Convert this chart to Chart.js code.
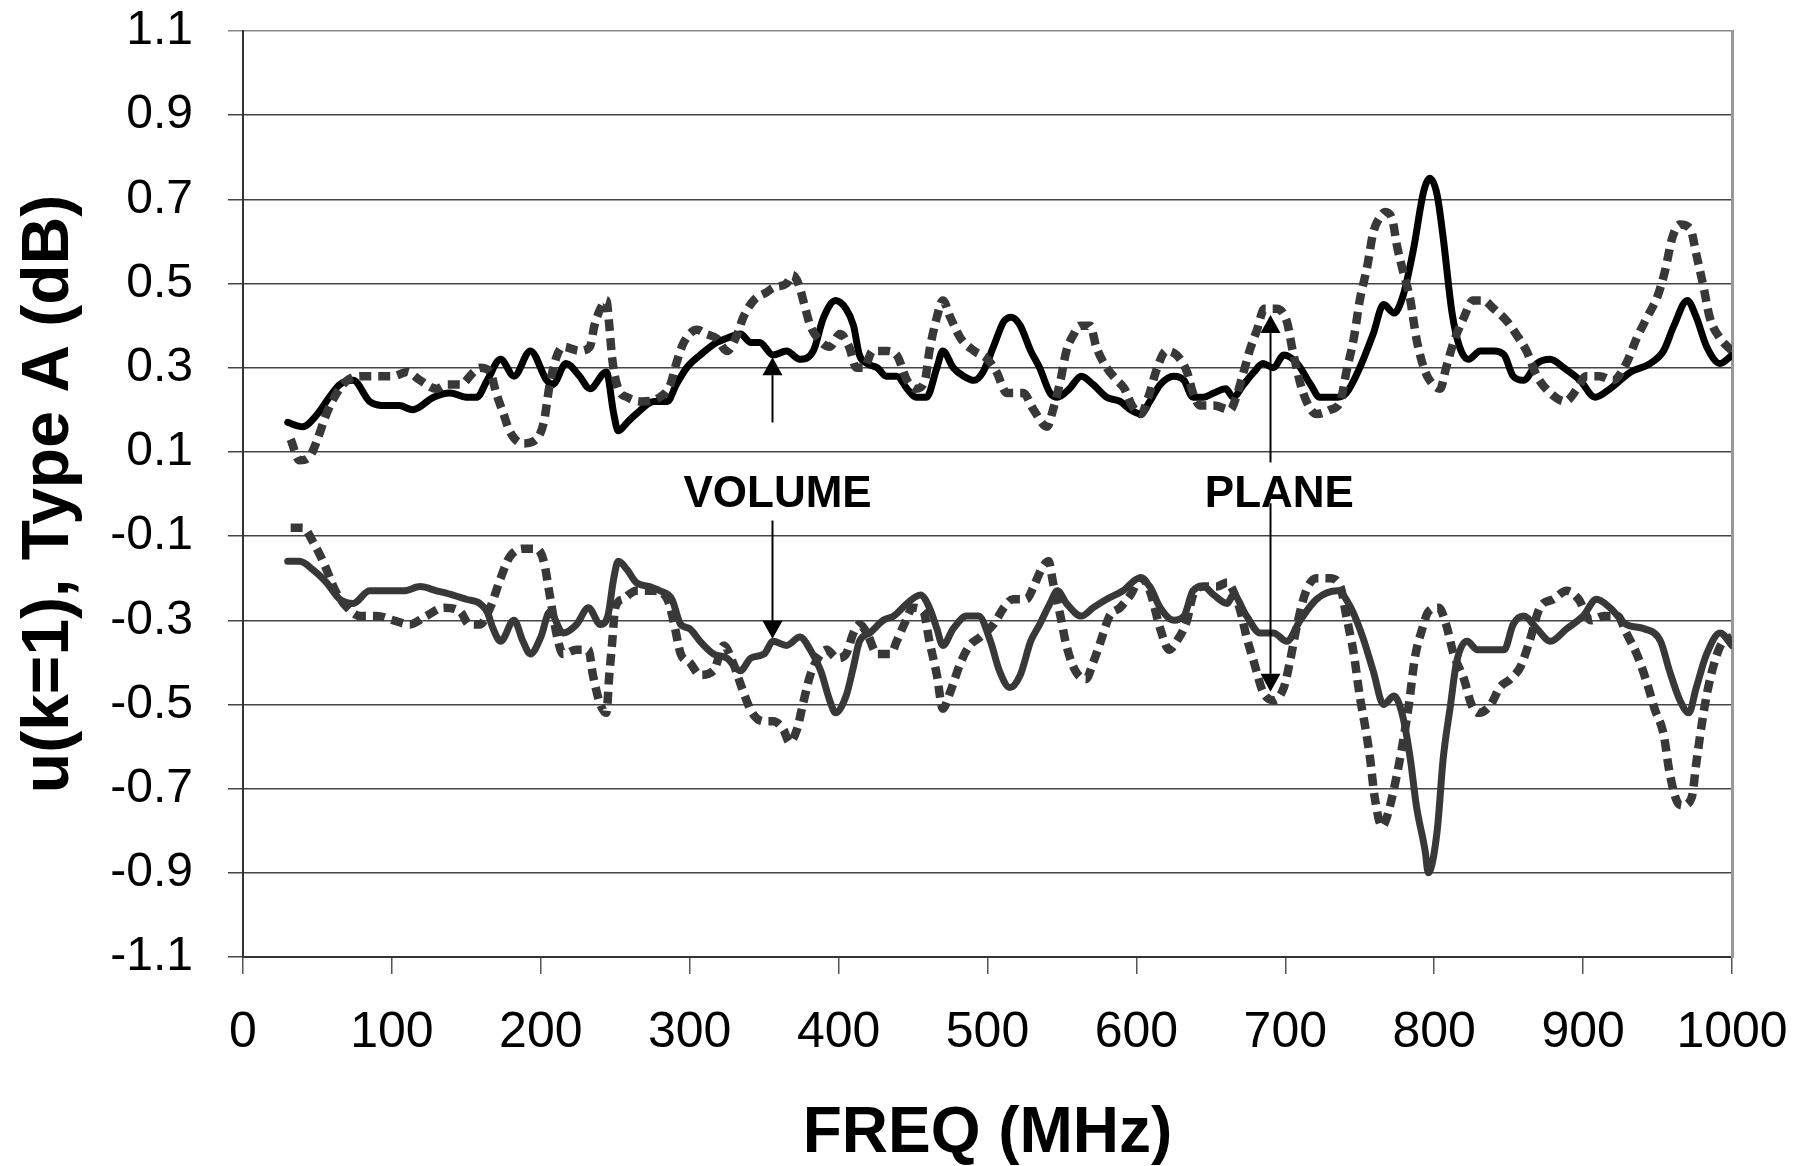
<!DOCTYPE html>
<html>
<head>
<meta charset="utf-8">
<script src="https://cdn.jsdelivr.net/npm/chart.js@4.4.1/dist/chart.umd.min.js"></script>
<style>
  html, body { margin: 0; padding: 0; background: #fff; }
  #wrap { width: 1796px; height: 1166px; }
</style>
</head>
<body>
<div id="wrap"><canvas id="uncChart" width="1796" height="1166"></canvas></div>
<script>
// upper curves (positive)
const upperSolidFreq = [30, 40, 50, 58, 65, 74, 85, 96, 105, 114, 128, 139, 150, 157, 164, 173, 182, 193, 204, 208, 217, 226, 233, 244, 249, 252, 258, 264, 276, 285, 291, 298, 307, 318, 325, 334, 341, 347, 356, 365, 374, 383, 390, 398, 405, 410, 414, 419, 426, 432, 439, 446, 452, 459, 466, 470, 477, 484, 491, 497, 504, 511, 516, 522, 529, 535, 542, 547, 555, 563, 571, 580, 589, 596, 603, 609, 616, 625, 632, 638, 645, 652, 660, 665, 672, 679, 685, 692, 699, 708, 717, 723, 735, 741, 750, 759, 766, 773, 779, 786, 793, 797, 802, 806, 812, 817, 823, 831, 840, 847, 853, 860, 869, 878, 887, 898, 908, 918, 932, 945, 954, 961, 970, 976, 983, 992, 1000];
const upperSolidVal = [0.17, 0.16, 0.19, 0.23, 0.26, 0.27, 0.22, 0.21, 0.21, 0.20, 0.23, 0.24, 0.23, 0.23, 0.27, 0.32, 0.28, 0.34, 0.27, 0.26, 0.31, 0.28, 0.25, 0.29, 0.19, 0.15, 0.17, 0.19, 0.22, 0.22, 0.26, 0.30, 0.33, 0.36, 0.37, 0.38, 0.36, 0.36, 0.33, 0.34, 0.32, 0.34, 0.42, 0.46, 0.44, 0.40, 0.33, 0.31, 0.30, 0.28, 0.28, 0.25, 0.23, 0.23, 0.30, 0.34, 0.30, 0.28, 0.27, 0.29, 0.35, 0.41, 0.42, 0.40, 0.34, 0.30, 0.24, 0.23, 0.25, 0.28, 0.26, 0.23, 0.22, 0.20, 0.19, 0.22, 0.26, 0.28, 0.27, 0.23, 0.23, 0.24, 0.25, 0.23, 0.26, 0.29, 0.31, 0.30, 0.33, 0.31, 0.26, 0.23, 0.23, 0.24, 0.30, 0.38, 0.45, 0.43, 0.47, 0.58, 0.72, 0.75, 0.71, 0.61, 0.43, 0.35, 0.32, 0.34, 0.34, 0.33, 0.28, 0.27, 0.31, 0.32, 0.30, 0.27, 0.23, 0.25, 0.29, 0.31, 0.34, 0.40, 0.46, 0.42, 0.35, 0.31, 0.33];

const upperDashFreq = [32, 38, 45, 50, 56, 63, 70, 79, 90, 101, 110, 119, 130, 137, 146, 155, 159, 166, 170, 175, 179, 188, 197, 202, 206, 211, 215, 226, 233, 236, 240, 244, 246, 248, 252, 258, 267, 280, 287, 291, 296, 305, 311, 318, 325, 332, 336, 343, 352, 356, 365, 369, 373, 377, 381, 386, 394, 401, 407, 412, 417, 423, 432, 439, 446, 452, 458, 461, 466, 470, 475, 482, 491, 500, 506, 513, 524, 531, 540, 544, 549, 553, 558, 562, 569, 573, 580, 587, 592, 597, 603, 608, 614, 620, 627, 634, 638, 643, 652, 663, 667, 672, 676, 681, 686, 694, 701, 705, 712, 721, 730, 737, 741, 746, 750, 755, 759, 764, 767, 772, 775, 779, 784, 788, 793, 797, 804, 808, 813, 820, 826, 833, 840, 849, 855, 862, 869, 878, 888, 896, 902, 911, 920, 929, 936, 943, 950, 955, 960, 965, 972, 976, 981, 985, 992, 1000];
const upperDashVal = [0.13, 0.08, 0.09, 0.13, 0.19, 0.24, 0.27, 0.28, 0.28, 0.28, 0.29, 0.27, 0.25, 0.26, 0.26, 0.29, 0.30, 0.29, 0.24, 0.19, 0.15, 0.12, 0.13, 0.17, 0.26, 0.33, 0.35, 0.34, 0.35, 0.40, 0.44, 0.46, 0.40, 0.32, 0.25, 0.23, 0.22, 0.23, 0.26, 0.31, 0.36, 0.39, 0.38, 0.37, 0.34, 0.38, 0.42, 0.46, 0.48, 0.49, 0.50, 0.52, 0.50, 0.45, 0.40, 0.37, 0.35, 0.38, 0.35, 0.30, 0.30, 0.34, 0.34, 0.33, 0.27, 0.25, 0.27, 0.34, 0.42, 0.46, 0.42, 0.37, 0.34, 0.32, 0.29, 0.24, 0.24, 0.20, 0.16, 0.20, 0.27, 0.34, 0.38, 0.40, 0.40, 0.35, 0.30, 0.27, 0.25, 0.21, 0.19, 0.23, 0.30, 0.34, 0.33, 0.29, 0.24, 0.21, 0.21, 0.20, 0.23, 0.29, 0.34, 0.39, 0.44, 0.44, 0.41, 0.34, 0.24, 0.19, 0.20, 0.22, 0.29, 0.37, 0.46, 0.54, 0.62, 0.66, 0.67, 0.65, 0.59, 0.53, 0.46, 0.37, 0.30, 0.27, 0.25, 0.30, 0.36, 0.42, 0.46, 0.46, 0.44, 0.41, 0.38, 0.34, 0.28, 0.24, 0.22, 0.25, 0.28, 0.28, 0.27, 0.31, 0.37, 0.42, 0.47, 0.53, 0.61, 0.64, 0.63, 0.57, 0.49, 0.42, 0.37, 0.34];

// lower curves (negative)
const lowerSolidFreq = [30, 38, 47, 56, 65, 74, 85, 97, 108, 119, 130, 141, 150, 159, 164, 168, 173, 182, 188, 193, 200, 206, 215, 224, 232, 240, 245, 249, 252, 258, 264, 273, 280, 288, 294, 300, 307, 316, 325, 334, 341, 350, 356, 365, 374, 381, 388, 394, 398, 405, 410, 414, 421, 430, 437, 446, 455, 461, 466, 470, 477, 486, 494, 502, 508, 515, 522, 529, 535, 542, 547, 553, 563, 571, 580, 591, 602, 609, 616, 625, 632, 638, 645, 652, 661, 665, 674, 683, 692, 701, 710, 721, 735, 744, 752, 759, 766, 773, 779, 784, 788, 794, 796, 802, 806, 811, 815, 822, 829, 838, 847, 853, 860, 869, 878, 889, 900, 909, 918, 929, 941, 952, 958, 965, 971, 976, 983, 992, 1000];
const lowerSolidVal = [-0.16, -0.16, -0.18, -0.21, -0.25, -0.26, -0.23, -0.23, -0.23, -0.22, -0.23, -0.24, -0.25, -0.26, -0.28, -0.32, -0.35, -0.30, -0.35, -0.38, -0.34, -0.28, -0.33, -0.31, -0.27, -0.31, -0.29, -0.20, -0.16, -0.18, -0.21, -0.22, -0.23, -0.25, -0.31, -0.32, -0.35, -0.38, -0.39, -0.42, -0.39, -0.38, -0.35, -0.36, -0.34, -0.37, -0.42, -0.49, -0.52, -0.48, -0.41, -0.35, -0.33, -0.30, -0.29, -0.26, -0.24, -0.27, -0.32, -0.36, -0.32, -0.29, -0.29, -0.35, -0.42, -0.46, -0.43, -0.35, -0.31, -0.26, -0.23, -0.26, -0.29, -0.27, -0.25, -0.23, -0.20, -0.22, -0.27, -0.30, -0.29, -0.23, -0.22, -0.24, -0.26, -0.24, -0.29, -0.33, -0.33, -0.35, -0.30, -0.25, -0.23, -0.27, -0.34, -0.42, -0.50, -0.48, -0.53, -0.63, -0.74, -0.85, -0.90, -0.80, -0.63, -0.50, -0.40, -0.35, -0.37, -0.37, -0.37, -0.31, -0.29, -0.32, -0.35, -0.32, -0.29, -0.25, -0.27, -0.31, -0.32, -0.35, -0.42, -0.49, -0.52, -0.46, -0.38, -0.33, -0.36];

const lowerDashFreq = [32, 40, 48, 55, 62, 70, 79, 90, 101, 112, 123, 135, 146, 152, 159, 166, 173, 179, 188, 197, 202, 206, 211, 215, 224, 232, 235, 240, 244, 246, 248, 250, 255, 264, 276, 285, 289, 294, 300, 307, 316, 323, 329, 335, 342, 350, 356, 363, 367, 372, 376, 381, 388, 392, 399, 405, 410, 414, 419, 426, 435, 439, 444, 450, 457, 461, 466, 470, 475, 482, 488, 495, 504, 511, 517, 526, 531, 536, 541, 544, 549, 553, 559, 566, 571, 576, 582, 589, 596, 603, 609, 616, 622, 627, 634, 638, 645, 654, 661, 665, 670, 674, 679, 685, 692, 699, 703, 708, 714, 721, 730, 737, 741, 746, 750, 754, 757, 760, 765, 768, 773, 778, 783, 787, 792, 796, 803, 808, 813, 820, 825, 830, 838, 844, 851, 858, 864, 871, 880, 889, 897, 905, 914, 923, 929, 936, 943, 948, 954, 958, 963, 967, 973, 976, 980, 984, 990, 994, 1000];
const lowerDashVal = [-0.08, -0.08, -0.12, -0.17, -0.23, -0.27, -0.29, -0.29, -0.30, -0.31, -0.29, -0.27, -0.28, -0.31, -0.31, -0.27, -0.20, -0.15, -0.13, -0.13, -0.16, -0.24, -0.34, -0.38, -0.37, -0.37, -0.43, -0.50, -0.52, -0.43, -0.35, -0.27, -0.25, -0.23, -0.23, -0.25, -0.30, -0.38, -0.40, -0.43, -0.42, -0.36, -0.40, -0.46, -0.52, -0.54, -0.54, -0.56, -0.59, -0.56, -0.50, -0.43, -0.38, -0.37, -0.39, -0.38, -0.33, -0.31, -0.33, -0.38, -0.38, -0.35, -0.31, -0.27, -0.28, -0.35, -0.43, -0.51, -0.47, -0.40, -0.36, -0.34, -0.31, -0.27, -0.25, -0.25, -0.22, -0.18, -0.16, -0.21, -0.29, -0.36, -0.42, -0.44, -0.40, -0.35, -0.29, -0.27, -0.24, -0.20, -0.23, -0.32, -0.37, -0.35, -0.30, -0.24, -0.22, -0.22, -0.21, -0.23, -0.28, -0.34, -0.40, -0.47, -0.49, -0.46, -0.40, -0.31, -0.23, -0.20, -0.20, -0.22, -0.29, -0.38, -0.48, -0.56, -0.63, -0.72, -0.79, -0.77, -0.70, -0.61, -0.50, -0.39, -0.32, -0.28, -0.27, -0.31, -0.38, -0.44, -0.50, -0.52, -0.50, -0.46, -0.44, -0.41, -0.35, -0.27, -0.25, -0.23, -0.25, -0.30, -0.29, -0.29, -0.33, -0.38, -0.45, -0.51, -0.57, -0.66, -0.73, -0.74, -0.72, -0.64, -0.54, -0.46, -0.38, -0.35, -0.34];

// axis ticks
const xTickStep = 100;
const yTickStep = 0.2;

// annotations: label text and arrows (frequency, start value, tip value)
const noteText = ["VOLUME", "PLANE"];
const noteFreq = [359, 696];
const noteVal = [-0.03, -0.03];
const arrowFreq = [355, 690];
const arrowUpFrom = [0.17, 0.075];
const arrowUpTo = [0.325, 0.425];
const arrowDownFrom = [-0.063, -0.022];
const arrowDownTo = [-0.344, -0.47];

const FONT = '"Liberation Sans", Arial, Helvetica, sans-serif';
Chart.defaults.font.family = FONT;
Chart.defaults.color = "#000";

const toPoints = (freq, val) => freq.map((f, i) => ({ x: f, y: val[i] }));

const annotationPlugin = {
  id: "notes",
  afterDatasetsDraw(chart) {
    const ctx = chart.ctx;
    const xs = chart.scales.x;
    const ys = chart.scales.y;
    ctx.save();
    ctx.fillStyle = "#000";
    ctx.strokeStyle = "#000";
    ctx.lineWidth = 2;
    ctx.font = "bold 44px " + FONT;
    ctx.textAlign = "center";
    ctx.textBaseline = "alphabetic";
    noteText.forEach((t, i) => {
      ctx.fillText(t, xs.getPixelForValue(noteFreq[i]), ys.getPixelForValue(noteVal[i]));
    });

    const drawArrow = (x, fromV, toV) => {
      const y0 = ys.getPixelForValue(fromV);
      const y1 = ys.getPixelForValue(toV);
      const dir = y1 < y0 ? 1 : -1;
      const head = 18;
      ctx.beginPath();
      ctx.moveTo(x, y0);
      ctx.lineTo(x, y1 + dir * head);
      ctx.stroke();
      ctx.beginPath();
      ctx.moveTo(x, y1);
      ctx.lineTo(x - 10, y1 + dir * head);
      ctx.lineTo(x + 10, y1 + dir * head);
      ctx.closePath();
      ctx.fill();
    };
    arrowFreq.forEach((f, i) => {
      const x = Math.round(xs.getPixelForValue(f)) + 0.5;
      drawArrow(x, arrowUpFrom[i], arrowUpTo[i]);
      drawArrow(x, arrowDownFrom[i], arrowDownTo[i]);
    });
    ctx.restore();
  },
};

const dashStyle = {
  borderColor: "#383838",
  borderWidth: 8.5,
  borderDash: [12, 7],
  borderCapStyle: "butt",
  pointRadius: 0,
  cubicInterpolationMode: "monotone",
  fill: false,
};
const solidStyle = {
  borderWidth: 7,
  borderJoinStyle: "round",
  borderCapStyle: "round",
  pointRadius: 0,
  cubicInterpolationMode: "monotone",
  fill: false,
};

// tick label padding would otherwise push the plot area inwards
const noEdgePadding = (s) => {
  s.paddingTop = 0;
  s.paddingBottom = 0;
  s.paddingLeft = 0;
  s.paddingRight = 0;
};

const chart = new Chart(document.getElementById("uncChart").getContext("2d"), {
  type: "line",
  data: {
    datasets: [
      { label: "upper dashed", data: toPoints(upperDashFreq, upperDashVal), ...dashStyle },
      { label: "lower dashed", data: toPoints(lowerDashFreq, lowerDashVal), ...dashStyle },
      { label: "upper solid", data: toPoints(upperSolidFreq, upperSolidVal), ...solidStyle, borderColor: "#000" },
      { label: "lower solid", data: toPoints(lowerSolidFreq, lowerSolidVal), ...solidStyle, borderColor: "#383838" },
    ],
  },
  options: {
    responsive: false,
    animation: false,
    devicePixelRatio: 1,
    layout: { padding: { top: 31, right: 64, left: 0, bottom: 0 } },
    plugins: {
      legend: { display: false },
      tooltip: { enabled: false },
    },
    scales: {
      x: {
        type: "linear",
        min: 0,
        max: 1000,
        ticks: {
          stepSize: xTickStep,
          autoSkip: false,
          maxRotation: 0,
          padding: 29,
          color: "#000",
          font: { size: 50 },
          callback: (v) => String(v),
        },
        grid: { drawOnChartArea: false, drawTicks: true, tickLength: 17, color: "#555", lineWidth: 1.5 },
        border: { color: "#333", width: 2 },
        title: {
          display: true,
          text: "FREQ (MHz)",
          color: "#000",
          font: { size: 64, weight: "bold", lineHeight: 1 },
          padding: 0,
        },
        afterFit: (s) => { s.height = 209; noEdgePadding(s); },
      },
      y: {
        min: -1.1,
        max: 1.1,
        ticks: {
          stepSize: yTickStep,
          padding: 35,
          color: "#000",
          font: { size: 48 },
          callback: (v) => Number(v).toFixed(1),
        },
        grid: {
          color: (c) => (c.index === 11 ? "#888" : "#444"),
          lineWidth: 1.5,
          tickLength: 15,
        },
        border: { color: "#333", width: 2 },
        title: {
          display: true,
          text: "u(k=1), Type A (dB)",
          color: "#000",
          font: { size: 66, weight: "bold", lineHeight: 1.2 },
          padding: { top: 10, bottom: 0 },
        },
        afterFit: (s) => { s.width = 243; noEdgePadding(s); },
      },
      y2: {
        position: "right",
        min: -1.1,
        max: 1.1,
        ticks: { display: false },
        grid: { drawOnChartArea: false, drawTicks: false },
        border: { color: "#999", width: 3 },
        afterFit: (s) => { s.width = 0; noEdgePadding(s); },
      },
    },
  },
  plugins: [annotationPlugin],
});
</script>
</body>
</html>
